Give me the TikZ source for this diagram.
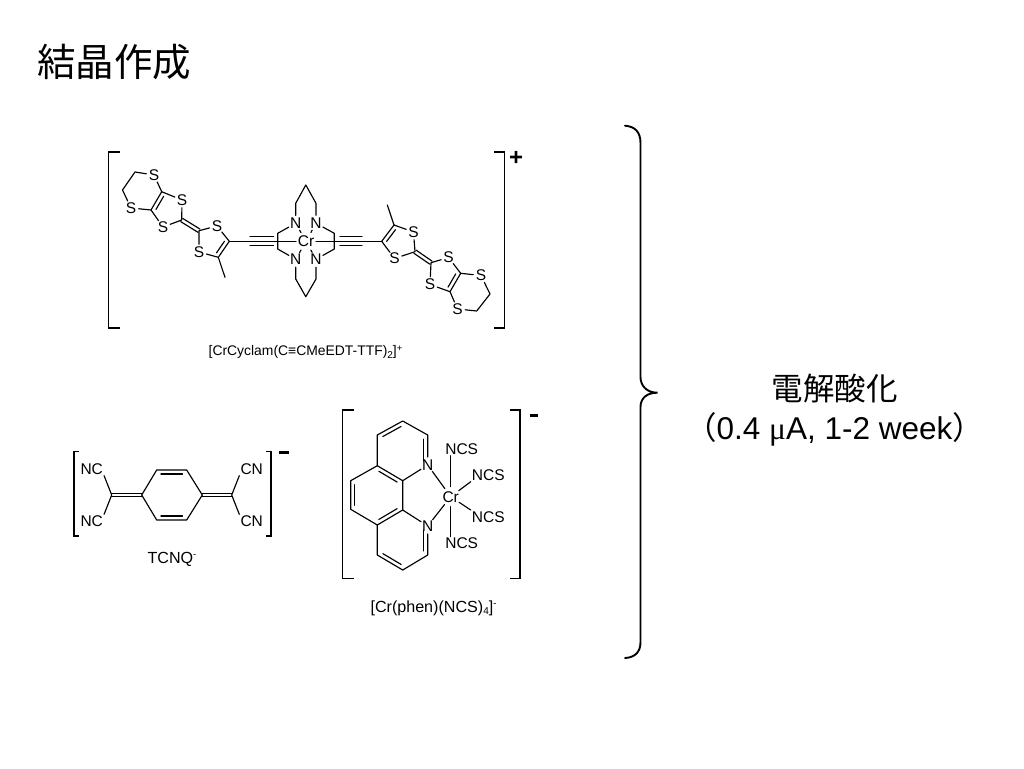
\documentclass[tikz,border=0pt]{standalone}
\usepackage{fontspec}
\setmainfont{Liberation Sans}
\newfontfamily\cjkfont{Noto Sans CJK JP}
\newfontfamily\serifmu{Liberation Serif}
\usetikzlibrary{calc}
\newcommand{\fsz}[1]{\fontsize{#1}{#1}\selectfont}
\newcommand{\supx}[2]{\raisebox{#1}{\fsz{9.5}#2}}
\newcommand{\subx}[1]{\raisebox{-2.5pt}{\fsz{10}#1}}
\newcommand{\dblin}[3]{\draw[bond] ($(#1)!.14!(#2)!4pt!#3:(#2)$) -- ($(#2)!.14!(#1)!4pt!-#3:(#1)$);}
\newcommand{\dbleq}[2]{\draw[bond] ($(#1)!1.9pt!90:(#2)$) -- ($(#2)!1.9pt!-90:(#1)$);\draw[bond] ($(#1)!1.9pt!-90:(#2)$) -- ($(#2)!1.9pt!90:(#1)$);}
\newcommand{\trip}[2]{\draw[bond] ($(#1)!4.4pt!90:(#2)$) -- ($(#2)!4.4pt!-90:(#1)$);\draw[bond] ($(#1)!4.4pt!-90:(#2)$) -- ($(#2)!4.4pt!90:(#1)$);}
\tikzset{
  bond/.style={line width=1.15pt,line cap=round,line join=round,black},
  brk/.style={line width=1.4pt,black},
  bracestroke/.style={line width=1.9pt,black,line cap=round},
  atom/.style={shape=circle,inner sep=0pt,font=\fsz{15.5}},
  grp/.style={shape=rectangle,inner sep=1pt,font=\fsz{15.5}},
  captxt/.style={inner sep=0pt,font=\fsz{13.9}},
  captxtb/.style={inner sep=0pt,font=\fsz{16.1}},
  chargetxt/.style={inner sep=0pt,font=\bfseries\fsz{24}},
  headtxt/.style={inner sep=0pt,font=\cjkfont\fsz{38.5}},
  sidetxt/.style={inner sep=0pt,font=\fsz{31.5}}
}
\begin{document}
\begin{tikzpicture}[x=1pt,y=-1pt]
\useasboundingbox (0,0) rectangle (1024,768);
\fill[white] (0,0) rectangle (1024,768);
\node[headtxt] (title) at (114,62) {結晶作成};
% --- cation brackets
\coordinate (b1a) at (120,152); \coordinate (b1b) at (108.5,152); \coordinate (b1c) at (108.5,328); \coordinate (b1d) at (120,328);
\draw[brk] (b1a) -- (b1b) -- (b1c) -- (b1d);
\coordinate (b2a) at (494,152); \coordinate (b2b) at (504.5,152); \coordinate (b2c) at (504.5,328); \coordinate (b2d) at (494,328);
\draw[brk] (b2a) -- (b2b) -- (b2c) -- (b2d);
\node[chargetxt] (plus) at (516,158) {+};
% left EDT-TTF
\node[atom] (lS1) at (154,175) {S};
\node[atom] (lS2) at (182,200) {S};
\node[atom] (lS3) at (131,208) {S};
\node[atom] (lS4) at (163,227) {S};
\node[atom] (lS5) at (217,226) {S};
\node[atom] (lS6) at (199,252) {S};
\coordinate (lc1) at (135,172); \coordinate (lc2) at (122.5,190);
\coordinate (lc3) at (161.7,191.7); \coordinate (lc4) at (151,210);
\coordinate (lc5) at (181.7,220); \coordinate (lc6) at (199,230.7);
\coordinate (lc7) at (229.3,241.3); \coordinate (lc8) at (218.3,257.3);
\coordinate (lme) at (225,277.3);
\draw[bond] (lS1) -- (lc1) -- (lc2) -- (lS3);
\draw[bond] (lS1) -- (lc3) -- (lS2) -- (lc5) -- (lS4) -- (lc4) -- (lS3);
\draw[bond] (lc3) -- (lc4);
\dblin{lc3}{lc4}{90}
\dbleq{lc5}{lc6}
\draw[bond] (lS5) -- (lc6) -- (lS6) -- (lc8) -- (lc7) -- (lS5);
\dblin{lc7}{lc8}{-90}
\draw[bond] (lc8) -- (lme);
% right EDT-TTF
\node[atom] (rS1) at (413.5,232) {S};
\node[atom] (rS2) at (394.5,258.5) {S};
\node[atom] (rS3) at (448.5,257.5) {S};
\node[atom] (rS4) at (430,284.5) {S};
\node[atom] (rS5) at (481,275.5) {S};
\node[atom] (rS6) at (457.5,309) {S};
\coordinate (rc1) at (381.7,241.3); \coordinate (rc2) at (394,225);
\coordinate (rme) at (387.3,205);
\coordinate (rc3) at (415,251.7); \coordinate (rc4) at (431,262.7);
\coordinate (rc5) at (460.7,273.3); \coordinate (rc6) at (450,291.7);
\coordinate (rc7) at (490,294); \coordinate (rc8) at (476.7,311);
\draw[bond] (rc1) -- (rc2) -- (rS1) -- (rc3) -- (rS2) -- (rc1);
\dblin{rc1}{rc2}{-90}
\draw[bond] (rc2) -- (rme);
\dbleq{rc3}{rc4}
\draw[bond] (rc4) -- (rS3) -- (rc5) -- (rc6) -- (rS4) -- (rc4);
\dblin{rc5}{rc6}{-90}
\draw[bond] (rc5) -- (rS5) -- (rc7) -- (rc8) -- (rS6) -- (rc6);
% cyclam core
\node[atom] (cr) at (306,241.3) {Cr};
\node[atom] (n1) at (295.7,223.3) {N};
\node[atom] (n2) at (316,223.3) {N};
\node[atom] (n3) at (295.7,259.3) {N};
\node[atom] (n4) at (316,259.3) {N};
\coordinate (t1) at (295.7,203.3); \coordinate (t2) at (305.8,185); \coordinate (t3) at (316,203.3);
\coordinate (u1) at (295.7,279); \coordinate (u2) at (305.8,296.7); \coordinate (u3) at (316,279);
\coordinate (l1) at (277.7,233.3); \coordinate (l2) at (277.7,249);
\coordinate (q1) at (334.3,233.3); \coordinate (q2) at (334.3,249);
\draw[bond] (n1) -- (t1) -- (t2) -- (t3) -- (n2);
\draw[bond] (n3) -- (u1) -- (u2) -- (u3) -- (n4);
\draw[bond] (n1) -- (l1) -- (l2) -- (n3);
\draw[bond] (n2) -- (q1) -- (q2) -- (n4);
\draw[bond] (cr) -- (n1); \draw[bond] (cr) -- (n2); \draw[bond] (cr) -- (n3); \draw[bond] (cr) -- (n4);
\draw[bond] (lc7) -- (cr);
\draw[bond] (cr) -- (rc1);
\coordinate (ta) at (250,241.3); \coordinate (tb) at (273.5,241.3);
\coordinate (tc) at (340,241.3); \coordinate (td) at (362,241.3);
\trip{ta}{tb}
\trip{tc}{td}
\node[captxt] (cap1) at (305.5,352) {[CrCyclam(C≡CMeEDT-TTF)\subx{2}]\supx{4.5pt}{+}};
% --- TCNQ
\coordinate (b3a) at (79,451.7); \coordinate (b3b) at (74,451.7); \coordinate (b3c) at (74,536); \coordinate (b3d) at (79,536);
\draw[brk] (b3a) -- (b3b) -- (b3c) -- (b3d);
\coordinate (b4a) at (266,451.7); \coordinate (b4b) at (271,451.7); \coordinate (b4c) at (271,536); \coordinate (b4d) at (266,536);
\draw[brk] (b4a) -- (b4b) -- (b4c) -- (b4d);
\coordinate (m1a) at (278.5,452.7); \coordinate (m1b) at (288.5,452.7);
\draw[line width=3pt] (m1a) -- (m1b);
\node[grp] (nc1) at (91.7,469) {NC};
\node[grp] (nc2) at (91.7,521) {NC};
\node[grp] (cn1) at (251.7,469) {CN};
\node[grp] (cn2) at (251.7,521) {CN};
\coordinate (qa) at (111.7,495); \coordinate (qb) at (141.7,495);
\coordinate (qc) at (156.7,470); \coordinate (qd) at (186.7,470);
\coordinate (qe) at (202.3,495); \coordinate (qf) at (186.7,520);
\coordinate (qg) at (156.7,520); \coordinate (qh) at (231.7,495);
\draw[bond] (nc1.south east) -- (qa) -- (nc2.north east);
\draw[bond] (cn1.south west) -- (qh) -- (cn2.north west);
\dbleq{qa}{qb}
\dbleq{qe}{qh}
\draw[bond] (qb) -- (qc) -- (qd) -- (qe) -- (qf) -- (qg) -- cycle;
\dblin{qc}{qd}{-90}
\dblin{qf}{qg}{-90}
\node[captxtb] (cap2) at (172,559) {TCNQ\supx{5.5pt}{-}};
% --- phen complex
\coordinate (b5a) at (353.5,410); \coordinate (b5b) at (342.5,410); \coordinate (b5c) at (342.5,578.7); \coordinate (b5d) at (353.5,578.7);
\draw[brk] (b5a) -- (b5b) -- (b5c) -- (b5d);
\coordinate (b6a) at (509.5,410); \coordinate (b6b) at (520,410); \coordinate (b6c) at (520,578.7); \coordinate (b6d) at (509.5,578.7);
\draw[brk] (b6a) -- (b6b) -- (b6c) -- (b6d);
\coordinate (m2a) at (529.5,415); \coordinate (m2b) at (538,415);
\draw[line width=3pt] (m2a) -- (m2b);
\node[atom] (pn1) at (427.7,465) {N};
\node[atom] (pn2) at (427.7,526) {N};
\node[atom] (pcr) at (450.7,496.7) {Cr};
\node[grp] (ncs1) at (461.7,449) {NCS};
\node[grp] (ncs2) at (488.3,475) {NCS};
\node[grp] (ncs3) at (488.3,516.7) {NCS};
\node[grp] (ncs4) at (461.7,543.3) {NCS};
\coordinate (p1) at (402.7,421); \coordinate (p2) at (377.3,435); \coordinate (p3) at (427.7,435);
\coordinate (p4) at (377.3,465.7); \coordinate (p5) at (402.7,480.7);
\coordinate (p6) at (350.7,480.7); \coordinate (p7) at (350.7,509.3);
\coordinate (p8) at (377.3,525); \coordinate (p9) at (402.7,510);
\coordinate (p10) at (427.7,555); \coordinate (p11) at (402.7,570); \coordinate (p12) at (377.3,555);
\draw[bond] (pn1) -- (p3) -- (p1) -- (p2) -- (p4) -- (p5) -- (pn1);
\draw[bond] (p4) -- (p6) -- (p7) -- (p8) -- (p9) -- (p5);
\draw[bond] (p9) -- (pn2) -- (p10) -- (p11) -- (p12) -- (p8);
\dblin{p1}{p2}{90}
\dblin{p3}{pn1}{-90}
\dblin{p4}{p5}{-90}
\dblin{p6}{p7}{90}
\dblin{p8}{p9}{90}
\dblin{pn2}{p10}{-90}
\dblin{p11}{p12}{-90}
\draw[bond] (pn1) -- (pcr); \draw[bond] (pn2) -- (pcr);
\draw[bond] (pcr) -- (pcr |- ncs1.south);
\draw[bond] (pcr) -- (pcr |- ncs4.north);
\draw[bond] (pcr) -- (ncs2.south west);
\draw[bond] (pcr) -- (ncs3.north west);
\node[captxtb] (cap3) at (433.5,608) {[Cr(phen)(NCS)\subx{4}]\supx{5.5pt}{-}};
% --- brace
\coordinate (ba) at (625,125.7); \coordinate (bb) at (640.5,143);
\coordinate (bc) at (640.5,377); \coordinate (bd) at (657.5,392.7);
\coordinate (be) at (640.5,407); \coordinate (bf) at (640.5,642); \coordinate (bg) at (625,658);
\draw[bracestroke] (ba) .. controls (635,126.5) and (640.5,132) .. (bb) -- (bc)
  .. controls (640.5,386) and (647,392.7) .. (bd)
  .. controls (647,392.7) and (640.5,398) .. (be) -- (bf)
  .. controls (640.5,652) and (635,657.5) .. (bg);
\node[sidetxt] (res1) at (834.5,389) {\cjkfont 電解酸化};
\node[sidetxt] (res2) at (834.5,429) {{\cjkfont （}0.4 {\serifmu μ}A, 1-2 week{\cjkfont ）}};
\end{tikzpicture}
\end{document}
